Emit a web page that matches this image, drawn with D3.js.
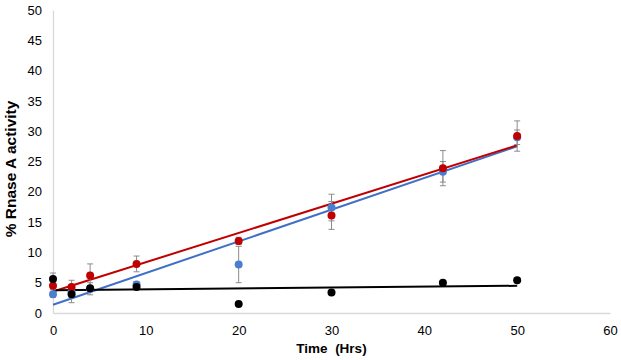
<!DOCTYPE html>
<html>
<head>
<meta charset="utf-8">
<script src="https://cdn.jsdelivr.net/npm/d3@7"></script>
<style>
    body { margin: 0; background: #fff; }
    text { font-family: "Liberation Sans", Arial, sans-serif; fill: #000; }
</style>
</head>
<body>
<div class="chart"></div>
<script>
(function(){

//data
var timeHrs = [0, 2, 4, 9, 20, 30, 42, 50];

var blueVals = [3.1, 3.5, 4.0, 4.7, 8.0, 17.4, 23.3, 29.0];
var blueErr  = [0.5, 1.0, 1.0, 0.5, 3.0, 2.2, 1.7, 1.2];

var redVals = [4.5, 4.3, 6.2, 8.1, 11.9, 16.1, 23.9, 29.2];
var redErr  = [0.6, 1.1, 1.9, 1.3, 0.6, 2.3, 2.9, 2.5];

var blackVals = [5.6, 3.1, 4.1, 4.3, 1.5, 3.4, 5.0, 5.4];
var blackErr  = [1.0, 1.4, 0.3, 0.3, 0.2, 0.3, 0.3, 0.3];

var xTicks = [0, 10, 20, 30, 40, 50, 60];
var yTicks = [0, 5, 10, 15, 20, 25, 30, 35, 40, 45, 50];

var xLabel = "Time  (Hrs)";
var yLabel = "% Rnase A activity";

//series in drawing order (blue under red under black)
var seriesList = [
    {name: "blue", vals: blueVals, err: blueErr, dot: "#4A7FCF", line: "#3F6FC6"},
    {name: "red", vals: redVals, err: redErr, dot: "#C00000", line: "#C00000"},
    {name: "black", vals: blackVals, err: blackErr, dot: "#000000", line: "#000000"}
];

window.onload = setChart();

function setChart(){

    var width = 621,
        height = 360;

    var margin = {top: 10, right: 11, bottom: 47, left: 53};

    var svg = d3.select(".chart")
        .append("svg")
        .attr("width", width)
        .attr("height", height);

    var x = d3.scaleLinear()
        .domain([0, 60])
        .range([margin.left, width - margin.right]);

    var y = d3.scaleLinear()
        .domain([0, 50])
        .range([height - margin.bottom, margin.top]);

    //axes, light grey lines with no tick marks
    var xAxis = svg.append("g")
        .attr("transform", "translate(0," + y(0) + ")")
        .call(d3.axisBottom(x).tickValues(xTicks).tickSize(0).tickPadding(13));

    var yAxis = svg.append("g")
        .attr("transform", "translate(" + x(0) + ",0)")
        .call(d3.axisLeft(y).tickValues(yTicks).tickSize(0).tickPadding(11));

    [xAxis, yAxis].forEach(function(ax){
        ax.select(".domain").attr("stroke", "#D9D9D9").attr("stroke-width", 1.3);
        ax.selectAll("text")
            .style("font-family", "'Liberation Sans', Arial, sans-serif")
            .style("font-size", "13px")
            .attr("fill", "#000");
    });

    svg.append("text")
        .attr("x", (x(0) + x(60)) / 2)
        .attr("y", 353)
        .attr("text-anchor", "middle")
        .style("font-size", "13.5px")
        .style("font-weight", "bold")
        .style("white-space", "pre")
        .text(xLabel);

    svg.append("text")
        .attr("transform", "translate(16,169) rotate(-90)")
        .attr("text-anchor", "middle")
        .style("font-size", "15.5px")
        .style("font-weight", "bold")
        .text(yLabel);

    //trend lines (least squares, like the spreadsheet does)
    seriesList.forEach(function(s){
        var fit = linearFit(timeHrs, s.vals);
        var x0 = d3.min(timeHrs), x1 = d3.max(timeHrs);
        svg.append("line")
            .attr("class", "trend " + s.name)
            .attr("x1", x(x0))
            .attr("y1", y(fit.b + fit.m * x0))
            .attr("x2", x(x1))
            .attr("y2", y(fit.b + fit.m * x1))
            .attr("stroke", s.line)
            .attr("stroke-width", 2);
    });

    //error bars
    seriesList.forEach(function(s){
        var g = svg.append("g").attr("class", "err " + s.name);
        timeHrs.forEach(function(t, i){
            var cx = x(t),
                top = y(s.vals[i] + s.err[i]),
                bot = y(s.vals[i] - s.err[i]);
            g.append("line")
                .attr("x1", cx).attr("x2", cx)
                .attr("y1", top).attr("y2", bot)
                .attr("stroke", "#8C8C8C").attr("stroke-width", 1);
            [top, bot].forEach(function(yy){
                g.append("line")
                    .attr("x1", cx - 3).attr("x2", cx + 3)
                    .attr("y1", yy).attr("y2", yy)
                    .attr("stroke", "#8C8C8C").attr("stroke-width", 1);
            });
        });
    });

    //markers
    seriesList.forEach(function(s){
        svg.selectAll(".dot." + s.name)
            .data(timeHrs)
            .enter()
            .append("circle")
            .attr("class", "dot " + s.name)
            .attr("cx", function(d){ return x(d); })
            .attr("cy", function(d, i){ return y(s.vals[i]); })
            .attr("r", 4)
            .attr("fill", s.dot);
    });
};

function linearFit(xs, ys){
    var xm = d3.mean(xs), ym = d3.mean(ys);
    var sxy = 0, sxx = 0;
    for (var i = 0; i < xs.length; i++){
        sxy += (xs[i] - xm) * (ys[i] - ym);
        sxx += (xs[i] - xm) * (xs[i] - xm);
    }
    var m = sxy / sxx;
    return {m: m, b: ym - m * xm};
};

})();
</script>
</body>
</html>
